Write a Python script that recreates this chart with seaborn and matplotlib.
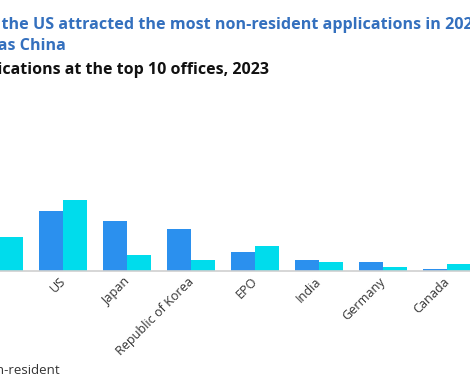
import numpy as np
import pandas as pd
import matplotlib
matplotlib.use("Agg")
import matplotlib.pyplot as plt
import matplotlib.transforms as mtransforms
import seaborn as sns

# data (thousands of applications)
offices = ["China", "US", "Japan", "Republic of Korea", "EPO", "India", "Germany", "Canada"]
resident = [1500, 289, 240, 200, 90, 51, 42, 7]
non_resident = [162, 340, 74, 51, 119, 42, 18, 32]
series = ["Resident", "Non-resident"]
colors = ["#2b90ee", "#00dcec"]

df = pd.DataFrame({
    "office": offices * 2,
    "type": [series[0]] * len(offices) + [series[1]] * len(offices),
    "value": resident + non_resident,
})

sns.set_theme(style="white")
plt.rcParams["font.family"] = ["Open Sans", "DejaVu Sans"]

W, H = 470, 392
fig = plt.figure(figsize=(W / 100, H / 100), dpi=100)

# axes placed so the picture shows only the middle of the chart
base_px = 270.7
top_px = 100
ax = fig.add_axes([0, (H - base_px) / H, 1, (base_px - top_px) / H])
sns.barplot(data=df, x="office", y="value", hue="type", palette=colors,
            width=0.75, saturation=1, ax=ax, linewidth=0)

px = 64.0
ax.set_xlim(1 / px, (W + 1) / px)
ax.set_ylim(0, (base_px - top_px) * 4.81)
for s in ["top", "right", "left"]:
    ax.spines[s].set_visible(False)
ax.spines["bottom"].set_color("#d0d0d0")
ax.spines["bottom"].set_linewidth(1.2)
ax.set_yticks([])
ax.set_xlabel("")
ax.set_ylabel("")
ax.tick_params(axis="x", length=0, pad=3)
shift = mtransforms.ScaledTranslation(-4 / 100, 0, fig.dpi_scale_trans)
for lab in ax.get_xticklabels():
    lab.set_rotation(45)
    lab.set_ha("right")
    lab.set_rotation_mode("anchor")
    lab.set_fontsize(9.1)
    lab.set_color("#333333")
    lab.set_transform(lab.get_transform() + shift)

sns.move_legend(ax, loc="center left", bbox_to_anchor=(-0.298, -0.585), ncol=2,
                frameon=False, title=None, fontsize=9.5, handlelength=0.9,
                handleheight=0.9, columnspacing=1.2, handletextpad=0.5)
for t in ax.get_legend().get_texts():
    t.set_color("#333333")

title_blue = "#3470be"
fig.text(-53 / W, 1 - 25 / H,
         "Again, the US attracted the most non-resident applications in 2023, while the leader overall",
         fontsize=11.6, fontweight="bold", color=title_blue, va="center", ha="left")
fig.text(-16 / W, 1 - 46 / H, "was China",
         fontsize=11.6, fontweight="bold", color=title_blue, va="center", ha="left")
fig.text(-95 / W, 1 - 70 / H, "Patent applications at the top 10 offices, 2023",
         fontsize=11.5, fontweight="bold", color="#111111", va="center", ha="left")

fig.savefig("out.png", dpi=100)
